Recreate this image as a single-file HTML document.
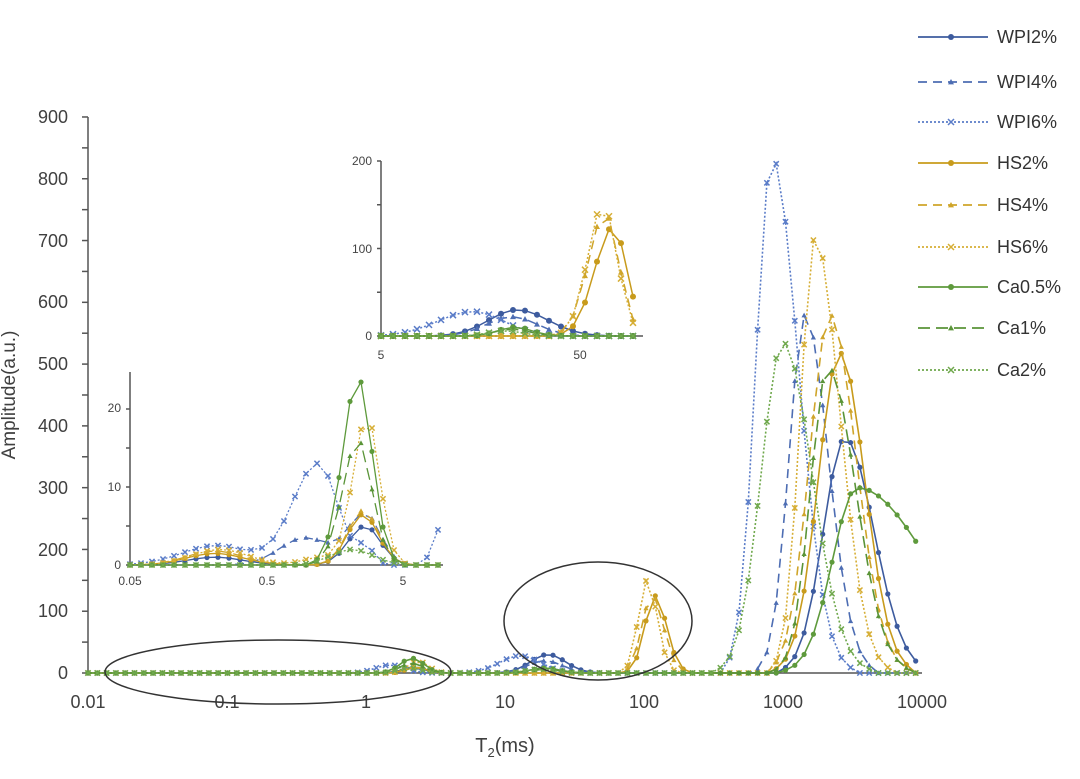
<!DOCTYPE html>
<html><head><meta charset="utf-8"><style>
html,body{margin:0;padding:0;background:#fff;}
svg{display:block;font-family:"Liberation Sans",sans-serif;}
</style></head><body>
<svg id="s" width="1080" height="779" viewBox="0 0 1080 779" xmlns="http://www.w3.org/2000/svg">
<g fill="#404040" font-size="18" text-anchor="end">
<text x="68" y="123">900</text><text x="68" y="185">800</text><text x="68" y="247">700</text>
<text x="68" y="308">600</text><text x="68" y="370">500</text><text x="68" y="432">400</text>
<text x="68" y="494">300</text><text x="68" y="556">200</text><text x="68" y="617">100</text>
<text x="68" y="679">0</text>
</g>
<g fill="#404040" font-size="18" text-anchor="middle">
<text x="88" y="708">0.01</text><text x="227" y="708">0.1</text><text x="366" y="708">1</text>
<text x="505" y="708">10</text><text x="644" y="708">100</text><text x="783" y="708">1000</text>
<text x="922" y="708">10000</text>
<text x="505" y="752" font-size="20">T<tspan font-size="13" dy="5">2</tspan><tspan dy="-5">(ms)</tspan></text>
</g>
<text transform="translate(15,395) rotate(-90)" fill="#404040" font-size="19" text-anchor="middle">Amplitude(a.u.)</text>
<g id="axes" stroke="#555" stroke-width="1.5" fill="none"></g>
<g id="main"></g>
<ellipse cx="278" cy="672" rx="173" ry="32" fill="none" stroke="#333" stroke-width="1.5"/>
<ellipse cx="598" cy="621" rx="94" ry="59" fill="none" stroke="#333" stroke-width="1.5"/>
<g id="in1"></g>
<g id="in2"></g>
<g fill="#444" font-size="12" text-anchor="end">
<text x="121" y="412">20</text><text x="121" y="491">10</text><text x="121" y="569">0</text>
<text x="372" y="165">200</text><text x="372" y="253">100</text><text x="372" y="340">0</text>
</g>
<g fill="#444" font-size="12" text-anchor="middle">
<text x="130" y="585">0.05</text><text x="267" y="585">0.5</text><text x="403" y="585">5</text>
<text x="381" y="359">5</text><text x="580" y="359">50</text>
</g>
<g id="leg" font-size="18" fill="#333"></g>
</svg>
<script>
var NS="http://www.w3.org/2000/svg";
function el(p,t,a){var e=document.createElementNS(NS,t);for(var k in a)e.setAttribute(k,a[k]);p.appendChild(e);return e;}
var B1="#3d5b9e",B2="#4d6db3",B3="#5a7cc8",Y1="#c89b1c",Y2="#cfa52a",Y3="#d6ae35",G1="#5e9a3c",G2="#5a9438",G3="#6fa84c";
var ser=[
{n:"WPI2%",c:B1,d:"",m:"o"},{n:"WPI4%",c:B2,d:"9,6",m:"t"},{n:"WPI6%",c:B3,d:"2,2",m:"x"},
{n:"HS2%",c:Y1,d:"",m:"o"},{n:"HS4%",c:Y2,d:"9,6",m:"t"},{n:"HS6%",c:Y3,d:"2,2",m:"x"},
{n:"Ca0.5%",c:G1,d:"",m:"o"},{n:"Ca1%",c:G2,d:"12,6",m:"t"},{n:"Ca2%",c:G3,d:"2,2",m:"x"}];
var mainP=[
[[845,380,15,20],[548,30,12,12],[414,8,8,8]],
[[805,580,11,16],[545,20,12,12],[414,10,8,8]],
[[772,835,11,18],[520,28,14,14],[390,13,10,10]],
[[840,518,15,17],[655,125,7,8],[416,9,7,7]],
[[830,580,14,18],[652,125,7,8],[416,10,7,7]],
[[815,705,10,17],[647,150,6,7],[418,19,7,7]],
[[857,300,17,49],[545,8,10,10],[412,24,8,8]],
[[828,495,12,19],[545,6,10,10],[412,16,8,8]],
[[783,535,15,20],[540,6,10,10],[410,8,8,8]]];
var in1P=[
[[365,5,12,11],[215,1,20,20]],
[[365,6.5,12,11],[305,3.5,18,18]],
[[318,13,18,14],[217,2.5,25,25],[450,8,8,8],[366,2,6,6]],
[[363,6.5,11,11],[215,1.5,20,20]],
[[363,7,11,11],[215,1.8,20,20]],
[[367,19,10,9],[220,2,20,20],[320,1,12,12]],
[[358,24,11,10]],
[[358,16,11,10]],
[[352,2,15,15]]];
var in2P=[
[[517,30,20,22]],[[512,22,18,18]],[[473,28,25,22]],
[[613,125,13,10]],[[605,140,12,10]],[[603,150,11,10]],
[[515,10,12,12]],[[512,8,12,12]],[[505,6,12,12]]];
function val(ps,x,f){var v=0;ps.forEach(function(p){var s=(x<p[0]?p[2]:p[3])*f;var g=p[1]*Math.exp(-(x-p[0])*(x-p[0])/(2*s*s));if(g>p[1]*0.01)v+=g;});return v;}
function marker(g,m,x,y,c,sz){
 if(m=="o")el(g,"circle",{cx:x,cy:y,r:sz,fill:c});
 else if(m=="t")el(g,"path",{d:"M"+x+","+(y-sz)+"L"+(x+sz)+","+(y+sz*0.8)+"L"+(x-sz)+","+(y+sz*0.8)+"Z",fill:c});
 else el(g,"path",{d:"M"+(x-sz)+","+(y-sz)+"L"+(x+sz)+","+(y+sz)+"M"+(x+sz)+","+(y-sz)+"L"+(x-sz)+","+(y+sz),stroke:c,"stroke-width":1.5,fill:"none"});
}
function draw(gid,P,x0,x1,step,y0,k,sz,lw,f){
 var g=document.getElementById(gid);
 ser.forEach(function(s,i){
  var pts=[];for(var x=x0;x<=x1+0.1;x+=step){pts.push([x,y0-k*val(P[i],x,f)]);}
  el(g,"polyline",{points:pts.map(function(p){return p[0].toFixed(1)+","+p[1].toFixed(1)}).join(" "),fill:"none",stroke:s.c,"stroke-width":lw,"stroke-dasharray":s.d});
  pts.forEach(function(p){marker(g,s.m,p[0],p[1],s.c,sz);});
 });
}
var ax=document.getElementById("axes");
el(ax,"line",{x1:88,y1:117,x2:88,y2:673});
for(var v=0;v<=900;v+=50){var y=673-v*0.6178;el(ax,"line",{x1:82,y1:y,x2:88,y2:y});}
el(ax,"line",{x1:88,y1:673,x2:922,y2:673});
el(ax,"line",{x1:130,y1:372,x2:130,y2:565});
for(var v=0;v<=20;v+=5){var y=565-v*7.8;el(ax,"line",{x1:126,y1:y,x2:130,y2:y});}
el(ax,"line",{x1:130,y1:565,x2:443,y2:565});
el(ax,"line",{x1:381,y1:161,x2:381,y2:336});
for(var v=0;v<=200;v+=50){var y=336-v*0.875;el(ax,"line",{x1:377,y1:y,x2:381,y2:y});}
el(ax,"line",{x1:381,y1:336,x2:643,y2:336});
draw("main",mainP,88,922,9.3,673,0.6178,2.6,1.6,1.45);
draw("in1",in1P,130,443,11,565,7.8,2.6,1.3,1.4);
draw("in2",in2P,381,643,12,336,0.875,3,1.5,1.4);
var lg=document.getElementById("leg");
var ly=[37,82,122,163,205,247,287,328,370];
ser.forEach(function(s,i){
 el(lg,"line",{x1:918,y1:ly[i],x2:988,y2:ly[i],stroke:s.c,"stroke-width":1.8,"stroke-dasharray":s.d});
 marker(lg,s.m,951,ly[i],s.c,3);
 var t=el(lg,"text",{x:997,y:ly[i]+6});t.textContent=s.n;
});
</script>
</body></html>
